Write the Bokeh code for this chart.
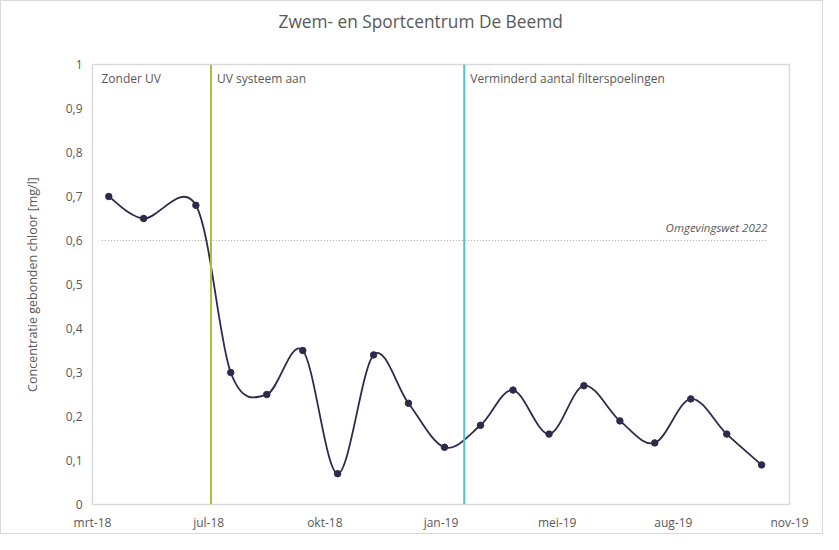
import pandas as pd
from bokeh.plotting import figure
from bokeh.models import (ColumnDataSource, Range1d, FixedTicker, CustomJSTickFormatter, Span, Title)
from bokeh.core.properties import value
from bokeh.embed import file_html
from bokeh.resources import INLINE

# ---- data ----
dates = ["2018-04-13", "2018-05-13", "2018-06-27", "2018-07-27", "2018-08-27",
         "2018-09-27", "2018-10-27", "2018-11-27", "2018-12-27", "2019-01-27",
         "2019-02-27", "2019-03-27", "2019-04-27", "2019-05-27", "2019-06-27",
         "2019-07-27", "2019-08-27", "2019-09-27", "2019-10-27"]
chloor = [0.70, 0.65, 0.68, 0.30, 0.25, 0.35, 0.07, 0.34, 0.23, 0.13,
          0.18, 0.26, 0.16, 0.27, 0.19, 0.14, 0.24, 0.16, 0.09]
tick_dates = ["2018-03-30", "2018-07-08", "2018-10-16", "2019-01-24",
              "2019-05-04", "2019-08-12", "2019-11-20"]
y_ticks = [0, 0.1, 0.2, 0.3, 0.4, 0.5, 0.6, 0.7, 0.8, 0.9, 1.0]
phase_labels = ["Zonder UV", "UV systeem aan", "Verminderd aantal filterspoelingen"]
phase_starts = ["2018-03-30", "2018-07-10", "2019-02-13"]
norm_value = 0.6
norm_label = "Omgevingswet 2022"
norm_dates = ["2018-04-07", "2019-11-01"]
title_text = "Zwem- en Sportcentrum De Beemd"

FONT = "Open Sans"
TXT = "#595959"
LINE = "#2E2A4C"


def ms(d):
    return pd.Timestamp(d).value / 1e6


xs = [ms(d) for d in dates]
ticks = [ms(d) for d in tick_dates]

p = figure(width=823, height=534, output_backend="svg", toolbar_location=None,
           x_range=Range1d(ticks[0], ticks[-1]), y_range=Range1d(0, 1),
           min_border_left=91, min_border_right=35, min_border_top=63,
           min_border_bottom=31, background_fill_color="white",
           border_fill_color="white", styles={"border": "1px solid #d9d9d9"})
p.outline_line_color = "#d9d9d9"
p.outline_line_width = 1.5
p.grid.visible = False

p.title.text = title_text
p.title.text_font = FONT
p.title.text_font_size = "17.3px"
p.title.text_font_style = "normal"
p.title.text_color = TXT
p.title.align = "left"
p.title.offset = 186
p.title.standoff = 10
# empty spacer between the title and the plot area
p.add_layout(Title(text=" ", text_font_size="1px", standoff=24), "above")

# axes
for ax in (p.xaxis, p.yaxis):
    ax.axis_line_color = None
    ax.major_tick_line_color = None
    ax.minor_tick_line_color = None
    ax.major_tick_out = 0
    ax.major_tick_in = 0
    ax.major_label_text_font = FONT
    ax.major_label_text_font_size = "12px"
    ax.major_label_text_color = TXT

p.xaxis.ticker = FixedTicker(ticks=ticks)
p.xaxis.formatter = CustomJSTickFormatter(code="""
const m = ['jan','feb','mrt','apr','mei','jun','jul','aug','sep','okt','nov','dec'];
const d = new Date(tick);
return m[d.getUTCMonth()] + '-' + String(d.getUTCFullYear()).slice(2);
""")
p.xaxis.major_label_standoff = 9

p.yaxis.ticker = FixedTicker(ticks=y_ticks)
p.yaxis.formatter = CustomJSTickFormatter(code="""
return String(Math.round(tick * 10) / 10).replace('.', ',');
""")
p.yaxis.major_label_standoff = 10
p.yaxis.axis_label = "Concentratie gebonden chloor [mg/l]"
p.yaxis.axis_label_text_font = FONT
p.yaxis.axis_label_text_font_size = "12.5px"
p.yaxis.axis_label_text_font_style = "normal"
p.yaxis.axis_label_text_color = TXT
p.yaxis.axis_label_standoff = 22

# phase separators
p.add_layout(Span(location=ms(phase_starts[1]), dimension="height",
                  line_color="#A5C23A", line_width=2))
p.add_layout(Span(location=ms(phase_starts[2]), dimension="height",
                  line_color="#4CC4D4", line_width=2))

# phase labels
offs = [9, 6, 6]
lab_src = ColumnDataSource(dict(x=[ms(d) for d in phase_starts], y=[1.0] * 3,
                                t=phase_labels, xo=offs))
p.text(x="x", y="y", text="t", x_offset="xo", y_offset=14, source=lab_src,
       text_font=value(FONT), text_font_size="12px", text_color=TXT,
       text_baseline="middle", text_align="left")

# norm line
p.line(x=[ms(d) for d in norm_dates], y=[norm_value, norm_value],
       line_color="#a6a6a6", line_width=1, line_dash="1 2")
p.text(x=[ms(norm_dates[1])], y=[norm_value], text=[norm_label], y_offset=-6,
       text_font=value(FONT), text_font_size="11.5px", text_font_style="italic",
       text_color=TXT, text_align="right", text_baseline="bottom")

# smoothed curve (Catmull-Rom bezier segments through the data points)
n = len(xs)
x0, y0, x1, y1, cx0, cy0, cx1, cy1 = [], [], [], [], [], [], [], []
for i in range(n - 1):
    xa, ya = (xs[i - 1], chloor[i - 1]) if i > 0 else (xs[i], chloor[i])
    xd, yd = (xs[i + 2], chloor[i + 2]) if i + 2 < n else (xs[i + 1], chloor[i + 1])
    x0.append(xs[i]); y0.append(chloor[i])
    x1.append(xs[i + 1]); y1.append(chloor[i + 1])
    cx0.append(xs[i] + (xs[i + 1] - xa) / 6); cy0.append(chloor[i] + (chloor[i + 1] - ya) / 6)
    cx1.append(xs[i + 1] - (xd - xs[i]) / 6); cy1.append(chloor[i + 1] - (yd - chloor[i]) / 6)
p.bezier(x0=x0, y0=y0, x1=x1, y1=y1, cx0=cx0, cy0=cy0, cx1=cx1, cy1=cy1,
         line_color=LINE, line_width=1.8)
p.scatter(x=xs, y=chloor, size=6.5, marker="circle", fill_color=LINE,
          line_color=LINE)

open("out.html", "w").write(file_html(p, INLINE))
